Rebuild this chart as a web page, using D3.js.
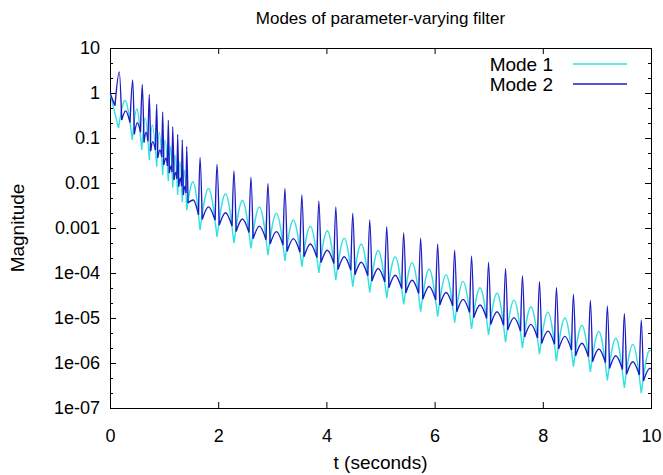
<!DOCTYPE html>
<html>
<head>
<meta charset="utf-8">
<script src="https://cdn.jsdelivr.net/npm/d3@7"></script>
<style>
  body { margin: 0; background: #fff; }
  svg text { font-family: "Liberation Sans", Arial, Helvetica, sans-serif; fill: #000; }
</style>
</head>
<body>
<svg id="chart"></svg>
<script>
// tick values and labels
const xTicks = [0, 2, 4, 6, 8, 10];
const yTicks = [1e-7, 1e-6, 1e-5, 1e-4, 1e-3, 1e-2, 1e-1, 1, 10];
const yTickLabels = ["1e-07", "1e-06", "1e-05", "1e-04", "0.001", "0.01", "0.1", "1", "10"];
const seriesNames = ["Mode 1", "Mode 2"];

// Mode 1 : [t, magnitude]
const mode1 = [
  [0, 1.0], [0.157, 0.166], [0.277, 0.68], [0.412, 0.091], [0.494, 0.44], [0.586, 0.054],
  [0.652, 0.28], [0.726, 0.032], [0.782, 0.195], [0.863, 0.023], [0.911, 0.135], [0.974, 0.015],
  [1.017, 0.091], [1.078, 0.011], [1.122, 0.065], [1.159, 0.0079], [1.201, 0.042], [1.251, 0.0054],
  [1.294, 0.030], [1.336, 0.0038], [1.373, 0.0195], [1.418, 0.0025], [1.534, 0.0107],
  [1.664, 9.1e-4], [1.821, 7.6e-3], [1.978, 6.3e-4], [2.135, 5.75e-3], [2.291, 4.6e-4], [2.448, 4.1e-3],
  [2.605, 3.5e-4], [2.762, 2.95e-3], [2.919, 2.5e-4], [3.076, 2.14e-3], [3.233, 1.86e-4], [3.390, 1.51e-3],
  [3.546, 1.38e-4], [3.703, 1.10e-3], [3.860, 1.0e-4], [4.017, 8.7e-4], [4.174, 6.9e-5], [4.331, 5.9e-4],
  [4.487, 5.0e-5], [4.644, 4.4e-4], [4.801, 3.7e-5], [4.958, 3.16e-4], [5.115, 2.75e-5], [5.272, 2.3e-4],
  [5.428, 2.0e-5], [5.585, 1.7e-4], [5.742, 1.38e-5], [5.899, 1.23e-4], [6.056, 1.07e-5], [6.213, 9.1e-5],
  [6.370, 7.9e-6], [6.527, 6.5e-5], [6.683, 5.75e-6], [6.840, 4.7e-5], [6.997, 4.2e-6], [7.154, 3.55e-5],
  [7.311, 2.9e-6], [7.468, 2.5e-5], [7.624, 2.14e-6], [7.781, 1.78e-5], [7.938, 1.58e-6], [8.095, 1.35e-5],
  [8.252, 1.10e-6], [8.409, 1.0e-5], [8.566, 8.3e-7], [8.723, 6.9e-6], [8.879, 6.3e-7], [9.036, 5.0e-6],
  [9.193, 4.1e-7], [9.350, 3.55e-6], [9.507, 2.8e-7], [9.664, 2.6e-6], [9.820, 2.14e-7], [9.975, 1.9e-6],
  [10, 1.88e-6]
];

// Mode 2 : [t, magnitude]
const mode2 = [
  [0, 1.0], [0.092, 0.52], [0.172, 2.95], [0.216, 0.25], [0.290, 0.40], [0.370, 0.22],
  [0.420, 1.95], [0.449, 0.12], [0.505, 0.22], [0.564, 0.135], [0.597, 1.55], [0.628, 0.079],
  [0.665, 0.135], [0.702, 0.085], [0.726, 0.93], [0.752, 0.051], [0.789, 0.083], [0.841, 0.054],
  [0.863, 0.56], [0.882, 0.036], [0.924, 0.054], [0.957, 0.038], [0.974, 0.38], [0.993, 0.025],
  [1.035, 0.036], [1.063, 0.024], [1.078, 0.25], [1.096, 0.0166], [1.128, 0.024], [1.146, 0.0174],
  [1.159, 0.178], [1.183, 0.0117], [1.220, 0.0174], [1.238, 0.0123], [1.251, 0.12], [1.270, 0.0083],
  [1.303, 0.0129], [1.323, 0.0085], [1.336, 0.091], [1.355, 0.0054], [1.386, 0.0085], [1.405, 0.006],
  [1.418, 0.065], [1.442, 0.0036], [1.540, 0.0042], [1.636, 1.95e-3],
  [1.664, 0.0372], [1.704, 1.55e-3], [1.821, 2.95e-3],
  [1.943, 1.48e-3], [1.978, 0.0263], [2.018, 1.15e-3], [2.135, 2.19e-3],
  [2.256, 1.10e-3], [2.291, 0.0186], [2.331, 8.3e-4], [2.448, 1.58e-3],
  [2.570, 7.9e-4], [2.605, 0.0135], [2.645, 5.75e-4], [2.762, 1.10e-3],
  [2.884, 5.5e-4], [2.919, 9.8e-3], [2.959, 4.4e-4], [3.076, 8.3e-4],
  [3.198, 4.2e-4], [3.233, 7.6e-3], [3.273, 3.0e-4], [3.390, 5.8e-4],
  [3.511, 2.9e-4], [3.546, 5.4e-3], [3.586, 2.3e-4], [3.703, 4.4e-4],
  [3.825, 2.2e-4], [3.860, 4.0e-3], [3.900, 1.7e-4], [4.017, 3.2e-4],
  [4.139, 1.62e-4], [4.174, 2.95e-3], [4.214, 1.2e-4], [4.331, 2.3e-4],
  [4.452, 1.15e-4], [4.487, 2.14e-3], [4.527, 9.1e-5], [4.644, 1.74e-4],
  [4.766, 8.7e-5], [4.801, 1.51e-3], [4.841, 6.6e-5], [4.958, 1.26e-4],
  [5.080, 6.3e-5], [5.115, 1.07e-3], [5.155, 4.7e-5], [5.272, 8.9e-5],
  [5.393, 4.5e-5], [5.428, 7.9e-4], [5.468, 3.6e-5], [5.585, 6.9e-5],
  [5.707, 3.5e-5], [5.742, 5.9e-4], [5.782, 2.6e-5], [5.899, 5.0e-5],
  [6.021, 2.5e-5], [6.056, 4.4e-4], [6.096, 1.95e-5], [6.213, 3.7e-5],
  [6.335, 1.86e-5], [6.370, 3.2e-4], [6.410, 1.38e-5], [6.527, 2.6e-5],
  [6.648, 1.32e-5], [6.683, 2.4e-4], [6.723, 1.02e-5], [6.840, 1.95e-5],
  [6.962, 9.8e-6], [6.997, 1.74e-4], [7.037, 7.2e-6], [7.154, 1.38e-5],
  [7.276, 6.9e-6], [7.311, 1.26e-4], [7.351, 5.4e-6], [7.468, 1.02e-5],
  [7.589, 5.1e-6], [7.624, 8.7e-5], [7.664, 3.8e-6], [7.781, 7.2e-6],
  [7.903, 3.6e-6], [7.938, 6.5e-5], [7.978, 2.7e-6], [8.095, 5.1e-6],
  [8.217, 2.6e-6], [8.252, 4.8e-5], [8.292, 2.04e-6], [8.409, 3.9e-6],
  [8.531, 1.95e-6], [8.566, 3.4e-5], [8.606, 1.45e-6], [8.723, 2.75e-6],
  [8.844, 1.38e-6], [8.879, 2.5e-5], [8.919, 1.07e-6], [9.036, 2.04e-6],
  [9.158, 1.02e-6], [9.193, 1.86e-5], [9.233, 7.6e-7], [9.350, 1.45e-6],
  [9.472, 7.2e-7], [9.507, 1.26e-5], [9.547, 5.6e-7], [9.664, 1.07e-6],
  [9.785, 5.4e-7], [9.820, 9.1e-6], [9.860, 4.0e-7], [9.977, 7.6e-7], [10, 7.5e-7]
];

const colors = ["#33e0e0", "#1c1cc4"];

const W = 663, H = 475;
const margin = { top: 48, right: 12, bottom: 67, left: 110 };
const width = W - margin.left - margin.right,
      height = H - margin.top - margin.bottom;

const svg = d3.select("#chart").attr("width", W).attr("height", H);
const g = svg.append("g").attr("transform", `translate(${margin.left},${margin.top})`);

const x = d3.scaleLinear().domain([0, 10]).range([0, width]);
const y = d3.scaleLog().domain([1e-7, 10]).range([height, 0]);

g.append("clipPath").attr("id", "clip")
  .append("rect").attr("width", width).attr("height", height);

// minor ticks on the log axis, a third of a decade apart
const yMinor = [];
yTicks.slice(0, -1).forEach(v => { yMinor.push(v * Math.pow(10, 1 / 3), v * Math.pow(10, 2 / 3)); });

const fmtY = d => yTickLabels[yTicks.indexOf(d)];

function styleAxis(sel) {
  sel.select(".domain").remove();
  sel.selectAll(".tick line").attr("stroke", "#000").attr("stroke-width", 1);
  sel.selectAll(".tick text").style("font-size", "18px").attr("fill", "#000");
}

g.append("g").call(d3.axisLeft(y).tickValues(yTicks).tickFormat(fmtY).tickSize(-6).tickPadding(10)).call(styleAxis);
g.append("g").call(d3.axisLeft(y).tickValues(yMinor).tickFormat("").tickSize(-3)).call(styleAxis);
g.append("g").attr("transform", `translate(${width},0)`)
  .call(d3.axisRight(y).tickValues(yTicks).tickFormat("").tickSize(-6)).call(styleAxis);
g.append("g").attr("transform", `translate(${width},0)`)
  .call(d3.axisRight(y).tickValues(yMinor).tickFormat("").tickSize(-3)).call(styleAxis);

g.append("g").attr("transform", `translate(0,${height})`)
  .call(d3.axisBottom(x).tickValues(xTicks).tickFormat(d3.format("d")).tickSize(-6).tickPadding(21)).call(styleAxis);
g.append("g")
  .call(d3.axisTop(x).tickValues(xTicks).tickFormat("").tickSize(-6)).call(styleAxis);

// frame
g.append("rect").attr("width", width).attr("height", height)
  .attr("fill", "none").attr("stroke", "#000").attr("stroke-width", 1).attr("shape-rendering", "crispEdges");

// split a series at its sharp minima so each arch is drawn smooth, with sharp cusps between
function pieces(data) {
  const out = [];
  let cur = [data[0]];
  for (let i = 1; i < data.length; i++) {
    cur.push(data[i]);
    const isMin = i < data.length - 1 && data[i][1] < data[i - 1][1] && data[i][1] < data[i + 1][1];
    if (isMin) { out.push(cur); cur = [data[i]]; }
  }
  if (cur.length > 1) out.push(cur);
  return out;
}

const line = d3.line().x(d => x(d[0])).y(d => y(d[1])).curve(d3.curveMonotoneX);

const plot = g.append("g").attr("clip-path", "url(#clip)");
[mode1, mode2].forEach((s, i) => {
  plot.append("path")
    .attr("d", pieces(s).map(p => line(p)).join(""))
    .attr("fill", "none")
    .attr("stroke", colors[i])
    .attr("stroke-width", 1.4)
    .attr("stroke-linejoin", "round");
});

// legend
const legend = g.append("g");
seriesNames.forEach((name, i) => {
  const ly = 16 + i * 20;
  legend.append("text").attr("x", 443).attr("y", ly).attr("dy", "0.35em")
    .attr("text-anchor", "end").style("font-size", "19px").text(name);
  legend.append("line").attr("x1", 463).attr("x2", 517).attr("y1", ly).attr("y2", ly)
    .attr("stroke", colors[i]).attr("stroke-width", 1.4);
});

svg.append("text").attr("x", margin.left + width / 2).attr("y", 24)
  .attr("text-anchor", "middle").style("font-size", "17px")
  .text("Modes of parameter-varying filter");

svg.append("text").attr("x", margin.left + width / 2).attr("y", 469)
  .attr("text-anchor", "middle").style("font-size", "19px")
  .text("t (seconds)");

svg.append("text").attr("transform", `translate(24,${margin.top + height / 2}) rotate(-90)`)
  .attr("text-anchor", "middle").style("font-size", "19px")
  .text("Magnitude");
</script>
</body>
</html>
